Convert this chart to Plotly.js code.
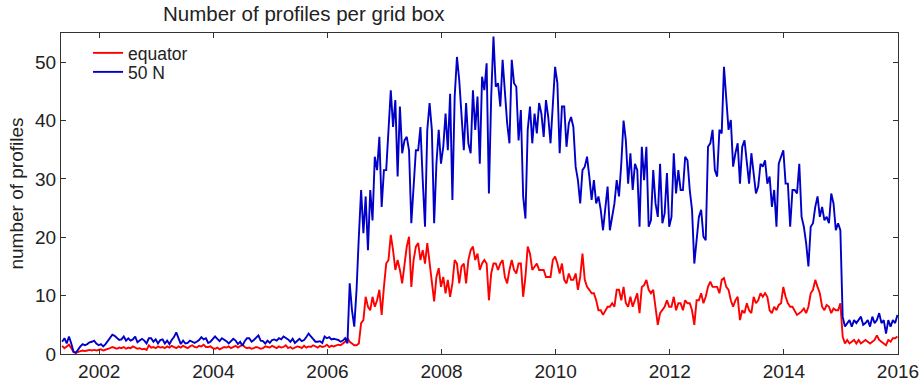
<!DOCTYPE html>
<html>
<head>
<meta charset="utf-8">
<script src="https://cdn.plot.ly/plotly-3.0.1.min.js"></script>
<style>
  html, body { margin: 0; padding: 0; background: #ffffff; }
  #chart { width: 921px; height: 385px; }
</style>
</head>
<body>
<div id="chart"></div>
<script>
// Profile counts per grid box, one value every 0.04 year starting 2001.35
const startYear = 2001.35;
const stepYears = 0.04;

// Equatorial grid box
const equatorCounts = [
  1.4, 1.0, 1.3, 1.6, 1.0, 0.3, 0.2, 0.4, 0.5, 0.6,
  0.5, 0.6, 0.7, 0.6, 0.7, 0.6, 0.7, 0.8, 0.6, 0.7,
  0.9, 1.0, 1.2, 1.0, 0.9, 1.1, 1.0, 1.2, 0.9, 1.1,
  1.0, 1.3, 1.1, 0.9, 1.0, 0.8, 0.9, 0.7, 1.5, 1.1,
  1.2, 1.0, 1.3, 1.1, 1.2, 1.0, 1.3, 1.1, 1.4, 1.2,
  1.0, 1.3, 1.1, 1.4, 1.2, 1.0, 1.3, 1.5, 1.2, 1.1,
  1.4, 1.3, 1.6, 1.2,
  1.2, 1.3, 1.0, 0.9, 1.1, 0.8, 1.0, 1.2, 1.1, 1.3,
  1.0, 1.2, 1.4, 1.1, 1.3, 1.6, 1.2, 1.0, 1.1, 0.9,
  1.0, 1.2, 1.1, 0.9, 1.0, 1.3, 1.2, 1.1, 1.4, 1.2,
  1.0, 1.3, 1.1, 1.2, 1.5, 1.0, 1.2, 0.9, 1.1, 1.3,
  1.2, 1.0, 1.4, 1.1, 1.3, 1.2, 1.5, 1.3, 1.1, 1.4,
  1.2, 1.3, 1.6, 1.2, 1.4, 1.3, 1.5, 1.6,
  1.5, 1.8, 2.1, 2.7, 2.1, 1.8, 1.5, 1.5, 1.8, 5.3,
  5.8, 9.8, 8.1, 7.5, 9.8, 8.1, 9.2, 11.0, 6.7, 11.5,
  15.5, 16.1, 20.4, 17.8, 14.4, 16.1, 14.4, 12.1, 15.5, 18.4,
  20.1, 11.5, 16.1, 18.4, 19.0, 16.1, 17.8, 15.5, 19.0, 15.5,
  12.7, 9.0, 13.2, 14.7, 11.5, 13.2, 10.4, 12.7, 9.8, 12.1,
  16.1, 15.5, 12.1, 15.0, 15.5, 12.1, 16.1, 17.8, 18.4, 16.1,
  17.2, 14.4, 15.5, 16.1,
  15.5, 9.2, 13.8, 15.5, 15.5, 14.4, 15.5, 16.1, 13.2, 12.1,
  14.4, 16.1, 14.4, 13.8, 15.5, 15.5, 9.8, 13.2, 18.4, 17.2,
  14.4, 15.0, 15.5, 14.4, 14.4, 14.4, 13.2, 13.2, 13.2, 16.1,
  16.7, 15.5, 13.8, 15.5, 12.7, 12.1, 13.8, 12.7, 12.7, 13.8,
  11.0, 13.2, 17.2, 12.7, 11.5, 11.0, 10.4, 10.4, 9.2, 7.5,
  7.5, 6.7, 7.5, 8.1, 8.1, 8.7, 8.1, 11.0, 11.0, 9.2,
  11.5,
  8.7, 8.1, 9.8, 8.1, 9.2, 10.4, 7.0, 11.5, 11.8, 12.7,
  11.0, 10.4, 11.0, 7.5, 5.0, 7.0, 7.5, 8.1, 9.2, 8.1,
  8.1, 9.8, 7.5, 8.7, 8.7, 7.5, 9.2, 8.7, 8.7, 7.5,
  5.0, 9.2, 9.2, 10.4, 8.7, 9.8, 11.5, 12.4, 11.5, 11.5,
  11.5, 10.4, 12.7, 13.0, 11.5, 11.0, 9.2, 8.1, 9.2, 9.8,
  5.8, 7.5, 7.0, 8.7, 7.5, 7.0, 9.8, 8.7, 9.2, 10.4,
  9.8, 10.4,
  9.8, 7.5, 7.0, 8.1, 7.5, 8.4, 8.7, 11.5, 9.8, 8.7,
  8.1, 8.1, 7.3, 6.7, 7.0, 7.3, 7.8, 7.0, 8.1, 10.4,
  11.0, 12.7, 11.5, 10.4, 8.1, 7.5, 8.4, 8.1, 7.0, 7.8,
  7.5, 7.5, 8.7, 3.0, 1.8, 2.4, 1.8, 2.1, 2.4, 1.8,
  2.4, 1.8, 2.1, 2.4, 2.1, 1.8, 2.1, 2.4, 3.2, 2.4,
  2.1, 1.8, 1.5, 2.4, 2.1, 2.7, 2.7, 3.0
];

// Grid box at 50 N
const n50Counts = [
  2.1, 2.7, 1.8, 3.0, 1.8, 0.4, 0.2, 0.8, 1.3, 1.7,
  1.5, 1.7, 2.0, 2.1, 2.3, 1.8, 1.5, 1.7, 1.3, 1.7,
  2.3, 2.7, 3.3, 3.1, 2.7, 2.4, 2.5, 3.0, 2.3, 2.7,
  2.3, 2.5, 3.0, 2.0, 2.3, 2.6, 2.3, 1.8, 2.7, 2.7,
  2.1, 2.5, 1.8, 2.4, 2.5, 1.8, 2.3, 1.7, 2.4, 2.9,
  3.7, 2.7, 1.7, 2.3, 1.8, 1.9, 2.3, 2.1, 1.9, 2.1,
  2.4, 2.9, 2.5, 2.7,
  1.9, 2.1, 2.6, 3.0, 2.6, 2.2, 2.7, 2.5, 2.2, 1.8,
  2.3, 2.6, 2.3, 1.7, 2.1, 1.4, 2.2, 2.7, 2.7, 2.1,
  2.4, 2.9, 3.2, 2.3, 2.2, 1.8, 2.3, 1.9, 2.4, 2.5,
  2.3, 2.7, 2.5, 3.0, 2.8, 2.5, 2.1, 2.6, 1.9, 2.2,
  2.6, 2.2, 2.4, 2.9, 3.5, 3.0, 2.6, 2.1, 2.1, 2.2,
  1.9, 3.0, 2.7, 2.9, 2.5, 2.6, 2.5, 2.4,
  2.1, 2.3, 2.7, 1.8, 12.1, 7.5, 4.7, 11.0, 20.1, 28.1,
  20.7, 27.0, 17.8, 28.1, 22.9, 33.8, 31.5, 37.2, 25.2, 31.5,
  31.5, 37.8, 45.2, 38.9, 43.5, 30.4, 42.4, 34.4, 36.6, 37.2,
  34.9, 22.4, 29.2, 34.9, 34.9, 38.9, 29.8, 21.8, 38.4, 43.0,
  38.4, 22.4, 32.6, 38.4, 32.6, 35.5, 41.2, 34.9, 44.6, 26.4,
  44.1, 50.9, 46.9, 40.6, 34.9, 43.0, 36.1, 34.4, 45.2, 38.4,
  44.1, 32.6, 47.5, 45.2,
  49.8, 27.5, 44.1, 54.4, 45.8, 46.4, 42.4, 50.4, 45.2, 39.5,
  36.1, 50.4, 46.4, 45.8, 36.6, 41.8, 27.0, 23.2, 38.4, 42.4,
  36.1, 41.2, 37.8, 43.0, 41.2, 37.2, 43.5, 40.6, 36.1, 43.0,
  49.2, 46.4, 34.4, 42.4, 42.4, 35.5, 39.5, 40.6, 38.9, 32.1,
  29.8, 25.8, 31.5, 32.1, 33.8, 30.4, 26.4, 29.8, 25.8, 27.0,
  24.7, 21.2, 25.2, 28.7, 21.2, 23.5, 25.8, 29.8, 27.0, 32.6,
  40.0,
  36.6, 29.2, 34.4, 28.1, 32.6, 31.5, 21.8, 35.5, 29.8, 35.5,
  21.8, 22.9, 31.5, 25.8, 23.5, 32.6, 22.4, 24.1, 31.0, 21.8,
  23.5, 34.4, 27.5, 31.5, 28.1, 28.1, 33.8, 33.2, 28.1, 24.7,
  15.5, 20.1, 23.5, 24.7, 20.1, 19.5, 35.5, 36.1, 38.4, 31.5,
  30.4, 38.4, 37.8, 49.2, 43.5, 38.4, 40.1, 32.1, 34.4, 36.1,
  29.2, 35.5, 36.6, 33.2, 29.2, 34.4, 31.0, 27.5, 28.7, 32.6,
  32.1, 33.2,
  29.2, 30.4, 25.2, 28.1, 21.8, 32.6, 33.8, 34.9, 29.2, 29.2,
  21.8, 28.1, 28.1, 27.5, 32.6, 23.5, 21.8, 19.0, 15.0, 21.8,
  22.4, 25.2, 27.0, 23.5, 25.2, 22.9, 23.5, 22.4, 27.5, 25.8,
  21.2, 22.4, 21.2, 6.4, 4.7, 5.3, 5.8, 4.7, 5.8, 5.3,
  5.8, 6.4, 5.0, 5.3, 5.8, 4.7, 6.4, 5.3, 5.8, 7.0,
  5.3, 5.8, 3.5, 5.8, 4.7, 5.8, 5.3, 6.7
];

const yearTicks = [2002, 2004, 2006, 2008, 2010, 2012, 2014, 2016];
const countTicks = [0, 10, 20, 30, 40, 50];

const seriesNames = ['equator', '50 N'];

const FONT = '"Liberation Sans", Arial, Helvetica, sans-serif';
const INK = '#222222';
const FRAME = '#333333';

const traces = [
  {
    type: 'scatter', mode: 'lines', name: seriesNames[0], legend: 'legend',
    x0: startYear, dx: stepYears, y: equatorCounts,
    line: { color: '#ff0000', width: 1.9 }
  },
  {
    type: 'scatter', mode: 'lines', name: seriesNames[1], legend: 'legend2',
    x0: startYear, dx: stepYears, y: n50Counts,
    line: { color: '#0000c8', width: 1.9 }
  }
];

const axisCommon = {
  showline: true, linecolor: FRAME, linewidth: 1, mirror: 'ticks',
  ticks: 'inside', ticklen: 5, tickwidth: 1, tickcolor: FRAME,
  showgrid: false, zeroline: false,
  tickfont: { family: FONT, size: 19, color: INK }
};

// One single-entry legend per series, stacked tightly in the upper left
const legendCommon = {
  x: 0.0323, xanchor: 'left', yanchor: 'middle',
  bgcolor: 'rgba(255,255,255,0)', borderwidth: 0,
  font: { family: FONT, size: 17.5, color: INK }
};

const layout = {
  width: 921, height: 385,
  margin: { l: 61, r: 23, t: 33, b: 31, pad: 0 },
  paper_bgcolor: '#ffffff', plot_bgcolor: '#ffffff',
  font: { family: FONT, color: INK },
  title: {
    text: 'Number of profiles per grid box',
    font: { family: FONT, size: 20.5, color: INK },
    xref: 'container', x: 163 / 921, xanchor: 'left',
    yref: 'container', y: 1 - 14 / 385, yanchor: 'middle'
  },
  xaxis: Object.assign({}, axisCommon, {
    range: [2001.33, 2016.0],
    tickmode: 'array', tickvals: yearTicks,
    ticktext: yearTicks.map(String)
  }),
  yaxis: Object.assign({}, axisCommon, {
    range: [0, 55],
    tickmode: 'array', tickvals: countTicks,
    ticktext: countTicks.map(String),
    title: { text: 'number of profiles', font: { family: FONT, size: 19, color: INK }, standoff: 6 }
  }),
  showlegend: true,
  legend: Object.assign({}, legendCommon, { y: (354 - 53) / 321 }),
  legend2: Object.assign({}, legendCommon, { y: (354 - 72) / 321 })
};

Plotly.newPlot('chart', traces, layout, { displayModeBar: false, staticPlot: true });
</script>
</body>
</html>
